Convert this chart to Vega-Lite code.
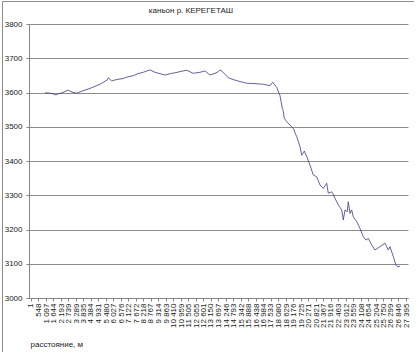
{
  "$schema": "https://vega.github.io/schema/vega-lite/v6.json",
  "width": 412,
  "height": 351,
  "autosize": {"type": "none"},
  "padding": {"left": 2, "top": 1, "right": 0, "bottom": 0},
  "background": "white",
  "title": {"text": "каньон  р. КЕРЕГЕТАШ", "anchor": "middle", "frame": "group", "dx": -17, "dy": 18, "offset": 0, "baseline": "middle", "fontSize": 8, "fontWeight": "normal", "font": "Liberation Sans", "color": "#222222"},
  "config": {
    "locale": {"number": {"decimal": ",", "thousands": " ", "grouping": [3], "currency": ["", ""]}},
    "view": {"stroke": "#8c8c8c", "strokeWidth": 1},
    "axis": {"labelFont": "Liberation Sans", "titleFont": "Liberation Sans", "labelColor": "#222222", "titleColor": "#222222", "domainColor": "#868686", "tickColor": "#868686", "gridColor": "#8c8c8c"}
  },
  "data": {"values": [
    {"d": 1024, "h": 3599}, {"d": 1389, "h": 3598}, {"d": 1608, "h": 3596}, {"d": 1827, "h": 3593},
    {"d": 2046, "h": 3597}, {"d": 2266, "h": 3599}, {"d": 2485, "h": 3603}, {"d": 2704, "h": 3607},
    {"d": 2850, "h": 3604}, {"d": 2996, "h": 3601}, {"d": 3361, "h": 3598}, {"d": 3581, "h": 3602},
    {"d": 3946, "h": 3607}, {"d": 4311, "h": 3612}, {"d": 4676, "h": 3618}, {"d": 5042, "h": 3624},
    {"d": 5334, "h": 3631}, {"d": 5553, "h": 3636}, {"d": 5648, "h": 3643}, {"d": 5896, "h": 3634},
    {"d": 6283, "h": 3638}, {"d": 6743, "h": 3641}, {"d": 7087, "h": 3646}, {"d": 7474, "h": 3649},
    {"d": 7817, "h": 3655}, {"d": 8204, "h": 3659}, {"d": 8475, "h": 3663}, {"d": 8694, "h": 3666},
    {"d": 9059, "h": 3659}, {"d": 9425, "h": 3655}, {"d": 9790, "h": 3651}, {"d": 10279, "h": 3656},
    {"d": 10594, "h": 3658}, {"d": 10886, "h": 3661}, {"d": 11375, "h": 3665}, {"d": 11857, "h": 3656},
    {"d": 12346, "h": 3659}, {"d": 12712, "h": 3663}, {"d": 13077, "h": 3651}, {"d": 13442, "h": 3656},
    {"d": 13661, "h": 3660}, {"d": 13808, "h": 3666}, {"d": 13954, "h": 3662}, {"d": 14414, "h": 3643},
    {"d": 14831, "h": 3637}, {"d": 15269, "h": 3632}, {"d": 15758, "h": 3627}, {"d": 16364, "h": 3626},
    {"d": 16971, "h": 3624}, {"d": 17460, "h": 3620}, {"d": 17657, "h": 3630}, {"d": 17949, "h": 3615},
    {"d": 18190, "h": 3591}, {"d": 18358, "h": 3554}, {"d": 18431, "h": 3545}, {"d": 18504, "h": 3525},
    {"d": 18679, "h": 3515}, {"d": 18920, "h": 3505}, {"d": 19161, "h": 3495}, {"d": 19410, "h": 3471},
    {"d": 19651, "h": 3442}, {"d": 19775, "h": 3417}, {"d": 19965, "h": 3429}, {"d": 20141, "h": 3413},
    {"d": 20382, "h": 3388}, {"d": 20623, "h": 3359}, {"d": 20871, "h": 3354}, {"d": 21112, "h": 3330},
    {"d": 21353, "h": 3320}, {"d": 21602, "h": 3335}, {"d": 21718, "h": 3306}, {"d": 21967, "h": 3310},
    {"d": 22083, "h": 3303}, {"d": 22207, "h": 3291}, {"d": 22448, "h": 3272}, {"d": 22697, "h": 3257},
    {"d": 22814, "h": 3228}, {"d": 22938, "h": 3257}, {"d": 23106, "h": 3252}, {"d": 23179, "h": 3281},
    {"d": 23303, "h": 3247}, {"d": 23427, "h": 3257}, {"d": 23544, "h": 3237}, {"d": 23793, "h": 3223},
    {"d": 24034, "h": 3203}, {"d": 24275, "h": 3179}, {"d": 24473, "h": 3169}, {"d": 24641, "h": 3174},
    {"d": 24889, "h": 3155}, {"d": 25130, "h": 3140}, {"d": 25495, "h": 3150}, {"d": 25861, "h": 3160},
    {"d": 26102, "h": 3140}, {"d": 26226, "h": 3150}, {"d": 26467, "h": 3121}, {"d": 26664, "h": 3096},
    {"d": 26788, "h": 3091}, {"d": 26956, "h": 3093}
  ]},
  "mark": {"type": "line", "color": "#3c3c78", "strokeWidth": 0.8},
  "encoding": {
    "x": {
      "field": "d", "type": "quantitative",
      "scale": {"domain": [-145, 27541], "range": [27, 406], "nice": false, "zero": false},
      "axis": {
        "orient": "bottom", "offset": -54,
        "values": [1, 548, 1097, 1644, 2193, 2739, 3289, 3835, 4384, 4931, 5480, 6027, 6576, 7122, 7672, 8218, 8767, 9314, 9863, 10410, 10959, 11505, 12055, 12601, 13150, 13697, 14246, 14793, 15342, 15888, 16438, 16984, 17533, 18080, 18629, 19176, 19725, 20271, 20821, 21367, 21916, 22463, 23012, 23559, 24108, 24654, 25204, 25750, 26299, 26846, 27395],
        "format": ",d", "labelAngle": 270, "labelAlign": "right", "labelBaseline": "middle",
        "labelFontSize": 8, "labelOverlap": false, "labelFlush": false, "labelPadding": 2,
        "tickSize": 3, "grid": false,
        "title": "расстояние, м", "titleFontSize": 8, "titleFontWeight": "normal",
        "titleAnchor": "start", "titleAlign": "left", "titleX": 28, "titleY": 46, "titleBaseline": "middle"
      }
    },
    "y": {
      "field": "h", "type": "quantitative",
      "scale": {"domain": [3000, 3800], "range": [297, 23], "nice": false, "zero": false},
      "axis": {
        "orient": "left", "offset": -27,
        "values": [3000, 3100, 3200, 3300, 3400, 3500, 3600, 3700, 3800],
        "format": "d", "labelFontSize": 8, "labelPadding": 4, "tickSize": 3,
        "grid": true, "title": null
      }
    }
  }
}
